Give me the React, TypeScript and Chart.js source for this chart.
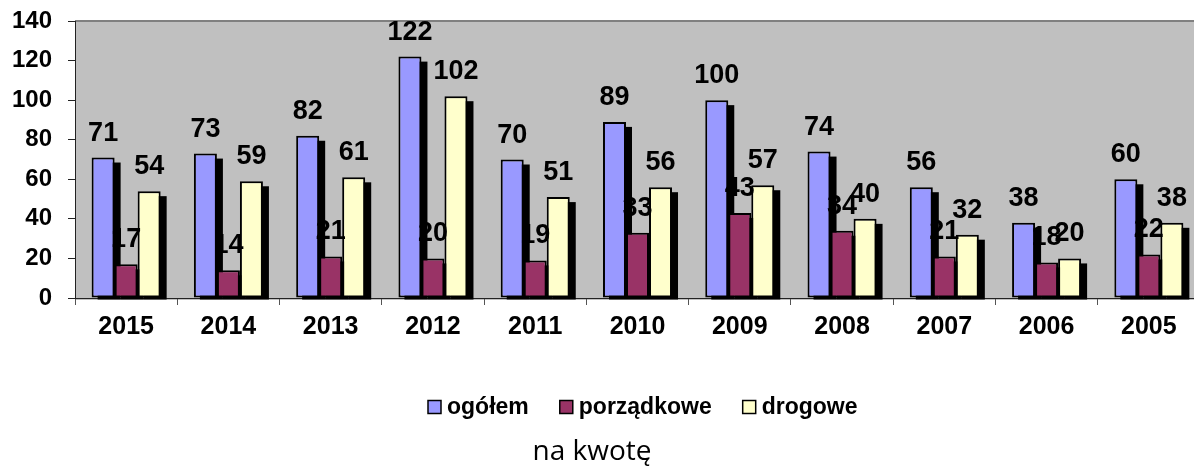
import React, { useEffect, useRef } from "react";
import { Chart, registerables } from "chart.js";

Chart.register(...registerables);

const categories = ["2015", "2014", "2013", "2012", "2011", "2010", "2009", "2008", "2007", "2006", "2005"];
const ogolem = [71, 73, 82, 122, 70, 89, 100, 74, 56, 38, 60];
const porzadkowe = [17, 14, 21, 20, 19, 33, 43, 34, 21, 18, 22];
const drogowe = [54, 59, 61, 102, 51, 56, 57, 40, 32, 20, 38];
const seriesNames = ["ogółem", "porządkowe", "drogowe"];
const seriesColors = ["#9999FF", "#993366", "#FFFFCC"];
const yMin = 0;
const yMax = 140;
const yStep = 20;
const footerText = "na kwotę";

const FONT = '"Liberation Sans", Arial, sans-serif';

const bgPlugin = {
  id: "plotBg",
  beforeDraw(chart: any) {
    const { ctx, chartArea } = chart;
    ctx.save();
    ctx.fillStyle = "#C0C0C0";
    ctx.fillRect(chartArea.left, chartArea.top, chartArea.right - chartArea.left, chartArea.bottom - chartArea.top + 2);
    ctx.strokeStyle = "#808080";
    ctx.lineWidth = 2;
    ctx.beginPath();
    ctx.moveTo(chartArea.left, chartArea.top);
    ctx.lineTo(chartArea.right, chartArea.top);
    ctx.stroke();
    ctx.restore();
  },
};

const shadowPlugin = {
  id: "barShadow",
  beforeDatasetsDraw(chart: any) {
    const { ctx } = chart;
    ctx.save();
    ctx.fillStyle = "#000";
    chart.data.datasets.forEach((_: any, di: number) => {
      const meta = chart.getDatasetMeta(di);
      meta.data.forEach((bar: any) => {
        const w = bar.width;
        const left = bar.x - w / 2 + 6;
        const top = bar.y + 5;
        const bottom = bar.base + 2;
        ctx.fillRect(left, top, w, Math.max(0, bottom - top));
      });
    });
    ctx.restore();
  },
};

const labelPlugin = {
  id: "barLabels",
  afterDatasetsDraw(chart: any) {
    const { ctx } = chart;
    ctx.save();
    ctx.fillStyle = "#000";
    ctx.font = `bold 27px ${FONT}`;
    ctx.textAlign = "center";
    ctx.textBaseline = "alphabetic";
    chart.data.datasets.forEach((ds: any, di: number) => {
      const meta = chart.getDatasetMeta(di);
      meta.data.forEach((bar: any, i: number) => {
        ctx.fillText(String(ds.data[i]), bar.x, bar.y - 17);
      });
    });
    ctx.restore();
  },
};

const legendPlugin = {
  id: "customLegend",
  afterDraw(chart: any) {
    const { ctx } = chart;
    ctx.save();
    ctx.font = `bold 23px ${FONT}`;
    ctx.textBaseline = "middle";
    ctx.textAlign = "left";
    let x = 428;
    const y = 407;
    chart.data.datasets.forEach((ds: any) => {
      ctx.fillStyle = ds.backgroundColor;
      ctx.fillRect(x, y - 6.5, 13, 13);
      ctx.strokeStyle = "#000";
      ctx.lineWidth = 1.5;
      ctx.strokeRect(x, y - 6.5, 13, 13);
      ctx.fillStyle = "#000";
      ctx.fillText(ds.label, x + 19, y + 1);
      x += 19 + ctx.measureText(ds.label).width + 31;
    });
    ctx.restore();
  },
};

export default function App() {
  const ref = useRef<HTMLCanvasElement>(null);

  useEffect(() => {
    if (!ref.current) return;
    const seriesData = [ogolem, porzadkowe, drogowe];
    const chart = new Chart(ref.current, {
      type: "bar",
      data: {
        labels: categories,
        datasets: seriesData.map((d, i) => ({
          label: seriesNames[i],
          data: d,
          backgroundColor: seriesColors[i],
          borderColor: "#000",
          borderWidth: 2,
          borderSkipped: false,
          categoryPercentage: 0.675,
          barPercentage: 1,
        })),
      },
      options: {
        responsive: false,
        animation: false,
        devicePixelRatio: 1,
        layout: { padding: { left: 0, right: 0, top: 21, bottom: 120 } },
        plugins: {
          legend: { display: false },
          title: { display: false },
          tooltip: { enabled: false },
        },
        scales: {
          x: {
            afterFit: (s: any) => {
              s.height = 50;
            },
            grid: {
              offset: true,
              drawOnChartArea: false,
              drawTicks: true,
              tickLength: 7,
              tickColor: "#555",
            },
            border: { display: true, color: "#222", width: 1 },
            ticks: {
              color: "#000",
              font: { family: FONT, size: 25, weight: "bold" },
              padding: 7,
              maxRotation: 0,
              autoSkip: false,
            },
          },
          y: {
            min: yMin,
            max: yMax,
            afterFit: (s: any) => {
              s.width = 75;
              s.paddingTop = 0;
              s.paddingBottom = 0;
            },
            grid: {
              drawOnChartArea: false,
              drawTicks: true,
              tickLength: 7,
              tickColor: "#222",
            },
            border: { display: true, color: "#222", width: 1 },
            ticks: {
              stepSize: yStep,
              color: "#000",
              padding: 16,
              font: { family: FONT, size: 24, weight: "bold" },
            },
          },
        },
      },
      plugins: [bgPlugin, shadowPlugin, labelPlugin, legendPlugin],
    });
    return () => chart.destroy();
  }, []);

  return (
    <div
      style={{
        position: "absolute",
        left: 0,
        top: 0,
        width: 1194,
        height: 468,
        overflow: "hidden",
        background: "#fff",
      }}
    >
      <canvas ref={ref} width={1200} height={468} style={{ display: "block" }} />
      <div
        style={{
          position: "absolute",
          left: 0,
          top: 430,
          width: 1184,
          textAlign: "center",
          fontFamily: '"Open Sans", sans-serif',
          fontSize: 28,
          lineHeight: "38px",
          color: "#000",
        }}
      >
        {footerText}
      </div>
    </div>
  );
}
